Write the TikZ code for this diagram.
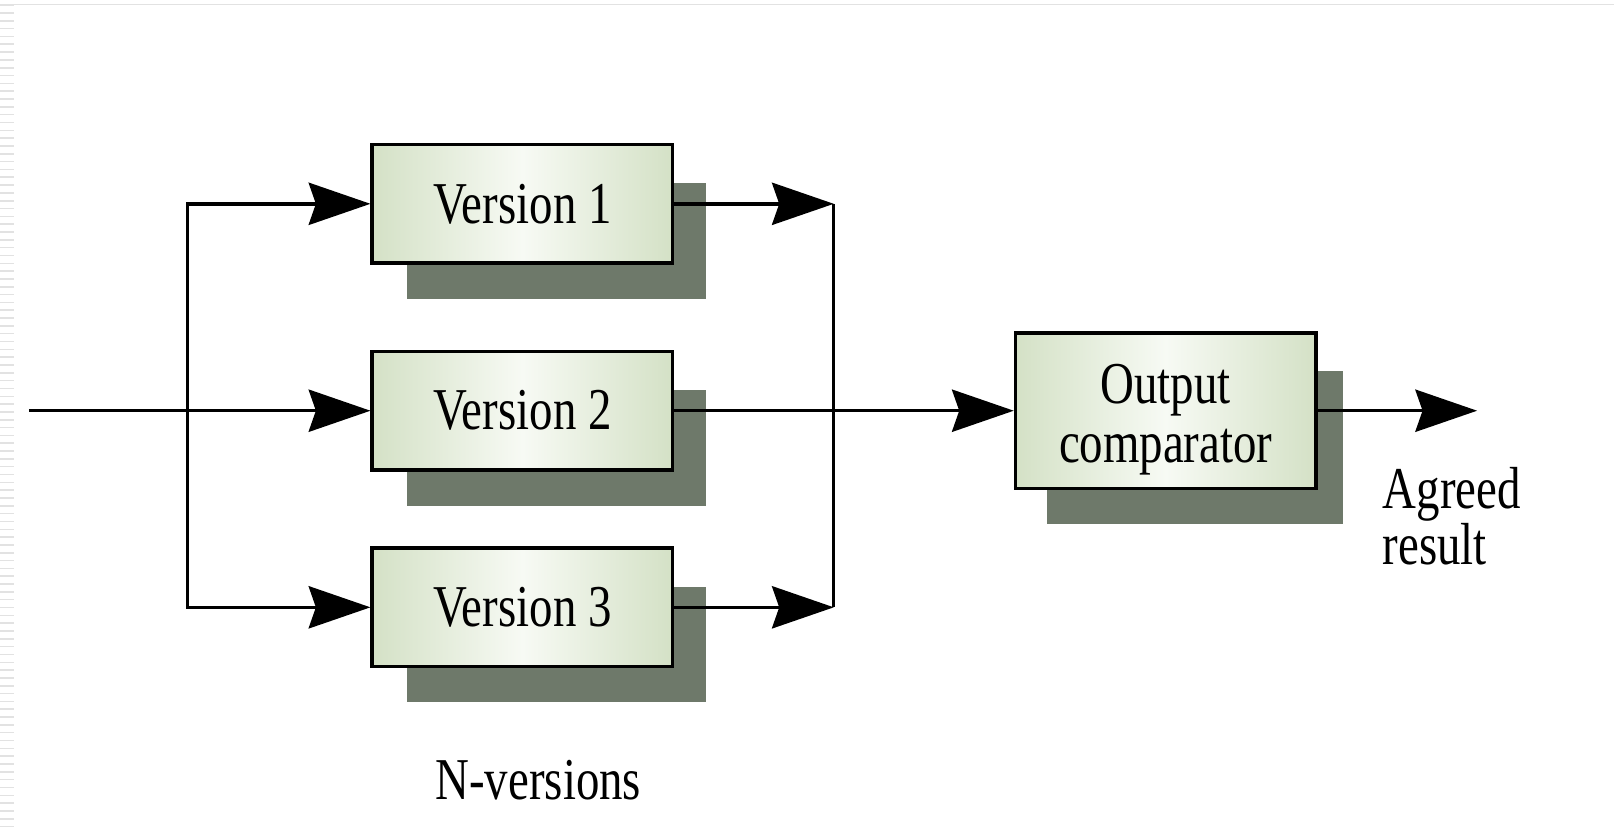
\documentclass[tikz,border=0pt]{standalone}
\usepackage{fontspec}
\newfontfamily\figfont[FakeStretch=0.79]{Liberation Serif}
\usetikzlibrary{arrows.meta,backgrounds,calc}
\definecolor{boxgreen}{RGB}{212,225,198}
\definecolor{boxlight}{RGB}{247,250,244}
\definecolor{shadowgreen}{RGB}{110,121,106}
\definecolor{framegray}{RGB}{226,226,226}

\begin{document}
\begin{tikzpicture}[x=0.02cm,y=-0.02cm,
  conn/.style={line width=0.066cm},
  arr/.style={conn,-{Stealth[length=1.2cm,width=0.82cm,inset=0.14cm]}},
  block/.style={draw=black,line width=0.066cm,
    left color=boxgreen,right color=boxgreen,middle color=boxlight,
    minimum width=5.84cm,minimum height=2.3cm,inner sep=0pt,
    font=\figfont\fontsize{32.8}{32.5}\selectfont},
  btext/.style={inner sep=0pt,align=center,font=\figfont\fontsize{32.8}{32.5}\selectfont},
  lbl/.style={inner sep=0pt,font=\figfont\fontsize{32.8}{25}\selectfont}]

\useasboundingbox (0,0) rectangle (1568,809);

% page frame: faint top rule and striped left margin
\draw[framegray,line width=0.025cm] (14,4.4) -- (1568,4.4);
\foreach \k in {0,...,105}
  \draw[framegray,line width=0.03cm] (0,{5+7.6*\k}) -- (13.5,{5+7.6*\k});

% the three versions
\node[block] (v1) at (507.5,198) {Version 1};
\node[block] (v2) at (507.5,399) {Version 2};
\node[block] (v3) at (507.5,590) {Version 3};

% comparator
\node[block,minimum height=3.02cm] (cmp) at (1132.5,399) {};
\node[btext,yshift=-0.18cm] (cmptext) at (cmp) {Output\\comparator};

% drop shadows
\begin{scope}[on background layer]
  \foreach \b in {v1,v2,v3}
    \fill[shadowgreen] ($(\b.north west)+(36,39)$) rectangle ($(\b.south east)+(31,33)$);
  \fill[shadowgreen] ($(cmp.north west)+(32,39)$) rectangle ($(cmp.south east)+(25,33)$);
\end{scope}

% input fan-out
\coordinate (in) at (28,399);
\coordinate (sl) at (182,399);
\draw[arr] (in) -- (v2.west);
\draw[arr] (sl) |- (v1.west);
\draw[arr] (sl) |- (v3.west);

% outputs gathered into the comparator
\coordinate (sr) at (810,399);
\draw[arr] (v1.east) -- (v1.east -| sr);
\draw[arr] (v3.east) -- (v3.east -| sr);
\draw[conn] (v1.east -| sr) -- (v3.east -| sr);
\draw[arr] (v2.east) -- (cmp.west);

% result
\coordinate (out) at (1435,399);
\draw[arr] (cmp.east) -- (out);
\node[lbl,anchor=north west,align=left] (res) at (1343,454) {Agreed\\result};

\node[lbl,anchor=base] (nv) at (523,777) {N-versions};
\end{tikzpicture}
\end{document}
